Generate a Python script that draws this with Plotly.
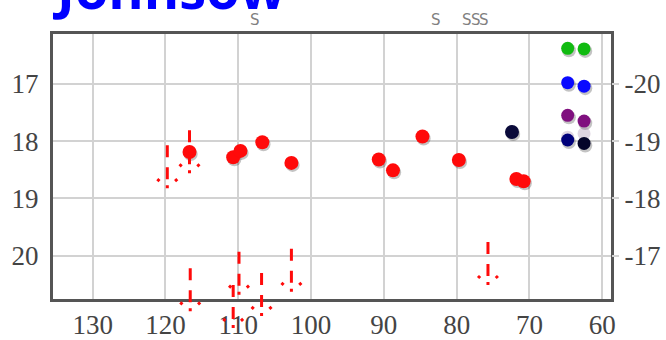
import math
import plotly.graph_objects as go

# ---- data -------------------------------------------------------------
x_ticks = [130, 120, 110, 100, 90, 80, 70, 60]
y_ticks = [17, 18, 19, 20]
mag_ticks = [-20, -19, -18, -17]
mag_labels = ["-20", "-19", "-18", "-17"]

# red detections
det_x = [116.7, 110.7, 109.7, 106.7, 102.7, 90.7, 88.75, 84.7, 79.7, 71.8, 70.8]
det_y = [18.19, 18.28, 18.17, 18.02, 18.38, 18.32, 18.51, 17.92, 18.33, 18.66, 18.70]

# dark detection
dark_x = [72.4]
dark_y = [17.84]

# reference columns on the right
col_x = [64.75, 62.5]
green_y = [16.38, 16.39]
blue_y = [16.98, 17.04]
purple_y = [17.55, 17.65]
faint_y = [17.93, 17.87]
navy_y = [17.98, 18.04]

# upper limits (value at top of the arrow)
lim_x = [119.75, 116.7, 116.6, 109.9, 110.7, 106.8, 102.7, 75.7]
lim_y = [18.07, 17.81, 20.22, 19.93, 20.51, 20.30, 19.88, 19.76]

# "S" flags along the top
s_x = [107.7, 82.8, 78.6, 77.3, 76.2]

# ---- geometry ---------------------------------------------------------
W, H = 666, 340
M_L, M_R, M_T, M_B = 53, 55, 34, 41
PW = W - M_L - M_R
PH = H - M_T - M_B
X_RANGE = [135.45, 58.8]
Y_TOP, Y_BOT = 16.13, 20.755
MAG_OFFSET = 37

X_PER_PX = (X_RANGE[0] - X_RANGE[1]) / PW
Y_PER_PX = (Y_BOT - Y_TOP) / PH
# overlay subplot reaching the bottom of the page, same scale
FULL_H = H - M_T
Y_BOT_FULL = Y_TOP + Y_PER_PX * FULL_H

SHAFT_PX, HEAD_W, HEAD_H = 43, 10, 9
head_len = 2 * math.hypot(HEAD_W, HEAD_H)

RED = "#ff0a0a"

shaft_x, shaft_y, head_x, head_y = [], [], [], []
for x, y in zip(lim_x, lim_y):
    tip = y + SHAFT_PX * Y_PER_PX
    shaft_x += [x, x, None]
    shaft_y += [y, tip, None]
    head_x += [x + HEAD_W * X_PER_PX, x, x - HEAD_W * X_PER_PX, None]
    head_y += [tip - HEAD_H * Y_PER_PX, tip, tip - HEAD_H * Y_PER_PX, None]

fig = go.Figure()

# soft drop shadows under the points
sh_dx, sh_dy = -1.2 * X_PER_PX, 2.0 * Y_PER_PX
all_x = det_x + dark_x + col_x * 4
all_y = det_y + dark_y + green_y + blue_y + purple_y + navy_y
fig.add_trace(go.Scatter(
    x=[v + sh_dx for v in all_x], y=[v + sh_dy for v in all_y], mode="markers",
    marker=dict(size=14, color="rgba(40,40,40,0.28)"), hoverinfo="skip"))

fig.add_trace(go.Scatter(x=det_x, y=det_y, mode="markers",
                         marker=dict(size=14, color=RED)))
fig.add_trace(go.Scatter(x=dark_x, y=dark_y, mode="markers",
                         marker=dict(size=14, color="#0a0a3a")))
fig.add_trace(go.Scatter(x=col_x, y=green_y, mode="markers",
                         marker=dict(size=13, color="#11bb11")))
fig.add_trace(go.Scatter(x=col_x, y=blue_y, mode="markers",
                         marker=dict(size=13, color="#0a0aff")))
fig.add_trace(go.Scatter(x=col_x, y=purple_y, mode="markers",
                         marker=dict(size=13, color="#80107f")))
fig.add_trace(go.Scatter(x=col_x, y=faint_y, mode="markers",
                         marker=dict(size=13, color="rgba(150,120,160,0.3)")))
fig.add_trace(go.Scatter(x=col_x, y=navy_y, mode="markers",
                         marker=dict(size=13, color=["#00007a", "#05052a"])))

# dashed upper-limit arrows (drawn on the taller overlay subplot)
fig.add_trace(go.Scatter(
    x=shaft_x, y=shaft_y, mode="lines", xaxis="x2", yaxis="y2",
    line=dict(color=RED, width=3, dash="12px,10px,12px,6px,3px,0px", simplify=False),
    hoverinfo="skip"))
fig.add_trace(go.Scatter(
    x=head_x, y=head_y, mode="lines", xaxis="x2", yaxis="y2",
    line=dict(color=RED, width=3,
              dash="3px,%.2fpx,3px,0px" % (head_len - 6), simplify=False),
    hoverinfo="skip"))

# right-hand magnitude axis
fig.add_trace(go.Scatter(x=[None], y=[None], xaxis="x", yaxis="y3",
                         hoverinfo="skip"))

tick_font = dict(family="Liberation Serif", size=27, color="#444444")
grid = "#d2d2d2"

fig.update_layout(
    width=W, height=H,
    margin=dict(l=M_L, r=M_R, t=M_T, b=0, pad=0),
    paper_bgcolor="white", plot_bgcolor="rgba(0,0,0,0)",
    showlegend=False,
    xaxis=dict(domain=[0, 1], range=X_RANGE, anchor="y", tickvals=x_ticks,
               showgrid=True, gridcolor=grid, gridwidth=1.5, zeroline=False,
               showline=True, linecolor="#555555", linewidth=3, mirror=True,
               ticks="", tickfont=tick_font),
    yaxis=dict(domain=[M_B / FULL_H, 1], range=[Y_BOT, Y_TOP], anchor="x",
               tickvals=y_ticks, showgrid=True, gridcolor=grid, gridwidth=1.5,
               zeroline=False, showline=True, linecolor="#555555", linewidth=3,
               mirror=True, ticks="", tickfont=tick_font, ticklabelstandoff=6),
    yaxis3=dict(overlaying="y", side="right", anchor="x",
                range=[Y_BOT - MAG_OFFSET, Y_TOP - MAG_OFFSET],
                tickvals=mag_ticks, ticktext=mag_labels, showgrid=False,
                zeroline=False, showline=False, ticks="outside", ticklen=7,
                tickcolor=grid, tickwidth=1.5, tickfont=tick_font),
    xaxis2=dict(domain=[0, 1], range=X_RANGE, anchor="y2", visible=False),
    yaxis2=dict(domain=[0, 1], range=[Y_BOT_FULL, Y_TOP], anchor="x2",
                visible=False),
)

for sx in s_x:
    fig.add_annotation(x=sx, y=(H - 20) / FULL_H, xref="x", yref="paper",
                       text="S", showarrow=False, yanchor="middle",
                       font=dict(family="DejaVu Sans", size=15, color="#808080"))

fig.add_annotation(x=0, y=(H - 27) / FULL_H, xref="paper", yref="paper",
                   text="<b>Johnsow</b>", showarrow=False, xanchor="left",
                   yanchor="bottom", xshift=-3,
                   font=dict(family="Open Sans", size=54, color="#0000ff"))

fig.write_html("out.html")
